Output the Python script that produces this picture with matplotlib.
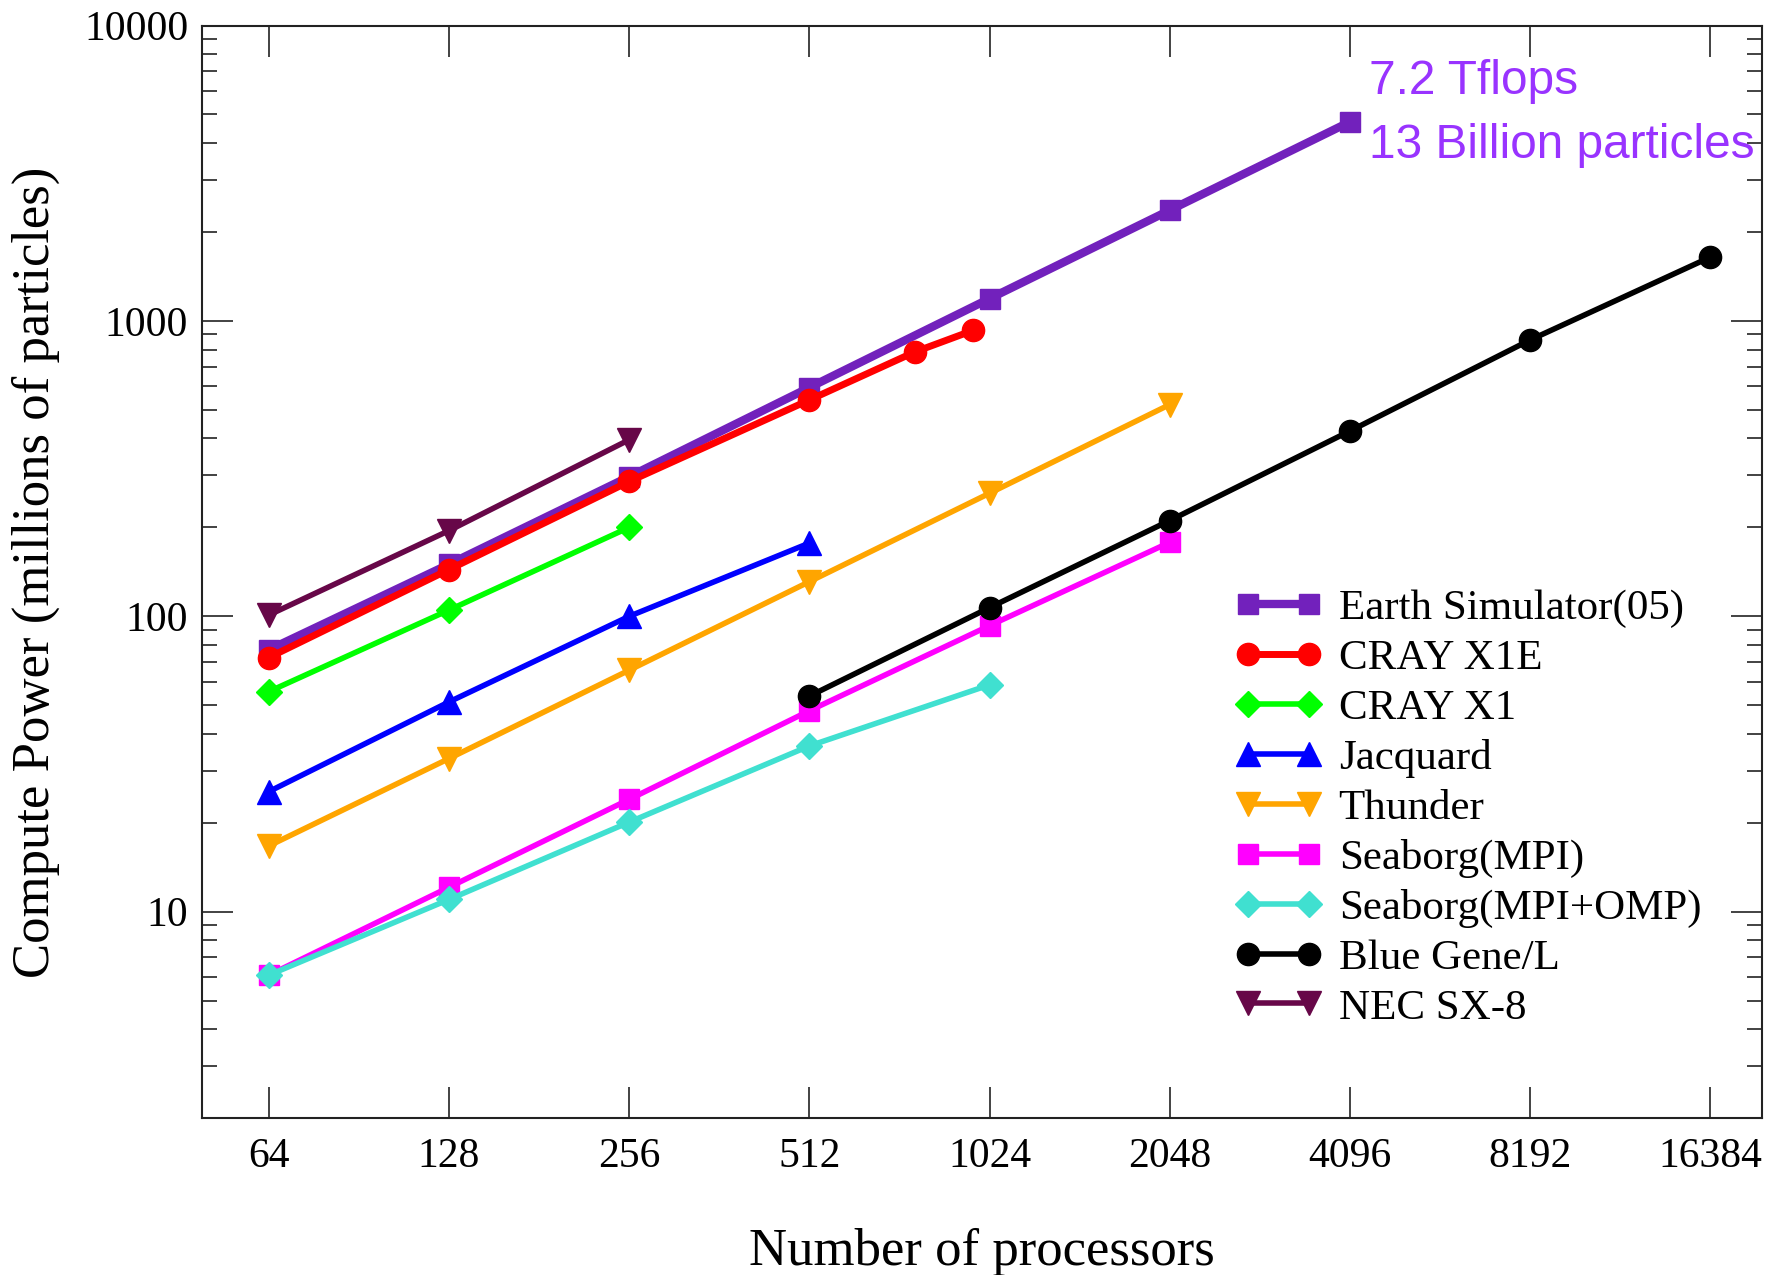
import matplotlib
matplotlib.use('Agg')
import matplotlib.pyplot as plt
from matplotlib.ticker import FixedLocator, FixedFormatter, LogLocator, NullFormatter, NullLocator

# processor counts
procs_all = [64, 128, 256, 512, 1024, 2048, 4096, 8192, 16384]

# compute power, millions of particles
es_x = [64, 128, 256, 512, 1024, 2048, 4096]
es_y = [77, 150, 297, 595, 1190, 2370, 4720]
x1e_x = [64, 128, 256, 512, 768, 960]
x1e_y = [72.5, 144, 286, 540, 785, 928]
x1_x = [64, 128, 256]
x1_y = [55.6, 105, 200]
jac_x = [64, 128, 256, 512]
jac_y = [25.5, 51.3, 100, 177]
thu_x = [64, 128, 256, 512, 1024, 2048]
thu_y = [16.7, 33, 65.7, 131, 261, 521]
sbm_x = [64, 128, 256, 512, 1024, 2048]
sbm_y = [6.1, 12.1, 24, 47.9, 93, 178]
sbo_x = [64, 128, 256, 512, 1024]
sbo_y = [6.1, 11.0, 20.1, 36.4, 58.6]
bgl_x = [512, 1024, 2048, 4096, 8192, 16384]
bgl_y = [53.7, 107, 211, 424, 862, 1644]
nec_x = [64, 128, 256]
nec_y = [101, 195, 396]

labels = ['Earth Simulator(05)', 'CRAY X1E', 'CRAY X1', 'Jacquard', 'Thunder',
          'Seaborg(MPI)', 'Seaborg(MPI+OMP)', 'Blue Gene/L', 'NEC SX-8']

serif = 'Liberation Serif'

fig = plt.figure(figsize=(17.8, 12.75), dpi=100)
ax = fig.add_axes([0.1135, 0.123, 0.8765, 0.857])

ax.plot(es_x, es_y, color='#7221bc', lw=6, marker='s', ms=15, label=labels[0])
ax.plot(x1e_x, x1e_y, color='#ff0000', lw=5, marker='o', ms=16, label=labels[1])
ax.plot(x1_x, x1_y, color='#00ff00', lw=4, marker='D', ms=13, label=labels[2])
ax.plot(jac_x, jac_y, color='#0000ff', lw=4, marker='^', ms=17, label=labels[3])
ax.plot(thu_x, thu_y, color='#ffa500', lw=4, marker='v', ms=17, label=labels[4])
ax.plot(sbm_x, sbm_y, color='#ff00ff', lw=4, marker='s', ms=14, label=labels[5])
ax.plot(sbo_x, sbo_y, color='#40e0d0', lw=4, marker='D', ms=13, label=labels[6])
ax.plot(bgl_x, bgl_y, color='#000000', lw=4, marker='o', ms=16, label=labels[7])
ax.plot(nec_x, nec_y, color='#670748', lw=4, marker='v', ms=17, label=labels[8])

ax.set_xscale('log', base=2)
ax.set_yscale('log')
ax.set_xlim(49.5, 20000)
ax.set_ylim(2, 10000)

ax.xaxis.set_major_locator(FixedLocator(procs_all))
ax.xaxis.set_major_formatter(FixedFormatter([str(p) for p in procs_all]))
ax.xaxis.set_minor_locator(NullLocator())
ax.yaxis.set_major_locator(FixedLocator([10, 100, 1000, 10000]))
ax.yaxis.set_major_formatter(FixedFormatter(['10', '100', '1000', '10000']))
ax.yaxis.set_minor_locator(LogLocator(base=10, subs=range(2, 10)))
ax.yaxis.set_minor_formatter(NullFormatter())

ax.tick_params(which='both', direction='in', top=True, right=True, width=1.2, color='#222222')
ax.tick_params(axis='x', which='major', length=22, pad=14)
ax.tick_params(axis='y', which='major', length=22, pad=10)
ax.tick_params(axis='y', which='minor', length=11)
for t in ax.get_xticklabels() + ax.get_yticklabels():
    t.set_fontfamily(serif)
    t.set_fontsize(30)
for s in ax.spines.values():
    s.set_linewidth(1.5)
    s.set_color('#222222')

ax.set_xlabel('Number of processors', fontfamily=serif, fontsize=38, labelpad=37)
ax.set_ylabel('Compute Power (millions of particles)', fontfamily=serif, fontsize=38, labelpad=17)

ax.text(4400, 5880, '7.2 Tflops', fontfamily='Liberation Sans', fontsize=34.4,
        color='#9933ff', ha='left', va='baseline')
ax.text(4400, 3570, '13 Billion particles', fontfamily='Liberation Sans', fontsize=34.4,
        color='#9933ff', ha='left', va='baseline')

leg = ax.legend(loc='upper left', bbox_to_anchor=(0.694, 0.538), bbox_transform=fig.transFigure,
                frameon=False, numpoints=2, handlelength=2.0, handletextpad=0.4,
                labelspacing=0.25, borderpad=0, borderaxespad=0,
                prop={'family': serif, 'size': 31})

fig.savefig('out.png', dpi=100)
